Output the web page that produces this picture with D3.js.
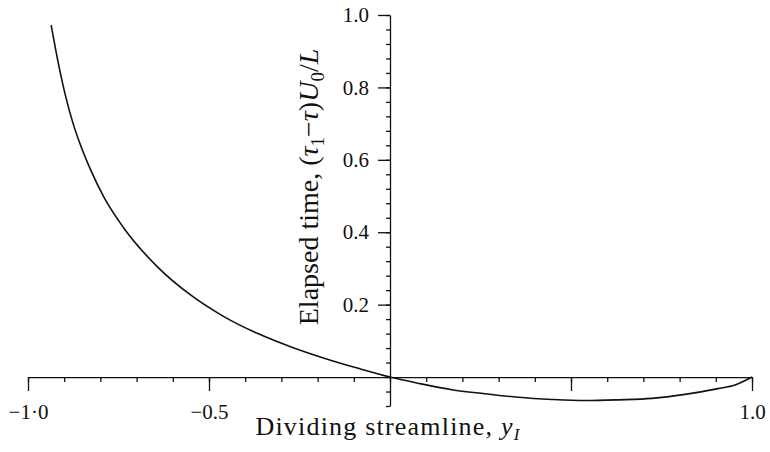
<!DOCTYPE html>
<html>
<head>
<meta charset="utf-8">
<script src="https://cdn.jsdelivr.net/npm/d3@7"></script>
<style>
body { margin: 0; background: #fff; }
</style>
</head>
<body>
<div id="chart"></div>
<script>

// dividing streamline y_I and elapsed time
var streamX = [-0.936, -0.914, -0.895, -0.876, -0.854, -0.826, -0.790, -0.735, -0.641, -0.550, -0.459,
               -0.365, -0.273, -0.182, -0.088, 0, 0.077, 0.171, 0.262, 0.354, 0.448, 0.539, 0.630,
               0.724, 0.815, 0.906, 0.953, 1.0];
var elapsedT = [0.972, 0.856, 0.771, 0.702, 0.638, 0.570, 0.496, 0.411, 0.303, 0.226, 0.167,
                0.120, 0.083, 0.052, 0.024, 0, -0.017, -0.035, -0.046, -0.056, -0.062, -0.065, -0.063,
                -0.059, -0.048, -0.032, -0.022, 0];

var xMajorTicks = [-1, -0.5, 0.5, 1];
var xTickLabels = ["\u22121\u00b70", "\u22120.5", "", "1.0"];
var yMajorTicks = [0.2, 0.4, 0.6, 0.8, 1.0];
var yTickLabels = ["0.2", "0.4", "0.6", "0.8", "1.0"];

var width = 770, height = 452;
var serif = '"Liberation Serif", "Times New Roman", serif';

var x = d3.scaleLinear().domain([-1, 1]).range([28, 752]);
var y = d3.scaleLinear().domain([-0.08, 1.0]).range([406, 15]);

var svg = d3.select("#chart")
    .append("svg")
    .attr("width", width)
    .attr("height", height);

// x axis: minor ticks every 0.1, then the longer labelled ones
var xg = svg.append("g").attr("transform", "translate(0," + y(0) + ")");
xg.append("g")
    .call(d3.axisBottom(x)
        .tickValues(d3.range(-10, 11).map(function(d){ return d / 10; }))
        .tickSize(5).tickSizeOuter(0).tickFormat(""));
xg.append("g")
    .call(d3.axisBottom(x)
        .tickValues(xMajorTicks)
        .tickSize(14).tickSizeOuter(0).tickPadding(13)
        .tickFormat(function(d, i){ return xTickLabels[i]; }))
    .call(function(g){ g.select(".domain").remove(); });

// y axis: minor ticks every 0.04
var yg = svg.append("g").attr("transform", "translate(" + x(0) + ",0)");
yg.append("g")
    .call(d3.axisLeft(y)
        .tickValues(d3.range(-2, 26).map(function(d){ return d * 0.04; }))
        .tickSize(4).tickSizeOuter(0).tickFormat(""));
yg.append("g")
    .call(d3.axisLeft(y)
        .tickValues(yMajorTicks)
        .tickSize(12).tickSizeOuter(0).tickPadding(9)
        .tickFormat(function(d, i){ return yTickLabels[i]; }))
    .call(function(g){ g.select(".domain").remove(); });

svg.selectAll(".domain, .tick line")
    .attr("stroke", "#111")
    .attr("stroke-width", 1.3);
svg.selectAll(".tick text")
    .attr("fill", "#111")
    .style("font-family", serif)
    .style("font-size", "21px");

// the curve
var line = d3.line()
    .x(function(d){ return x(d[0]); })
    .y(function(d){ return y(d[1]); })
    .curve(d3.curveMonotoneX);

svg.append("path")
    .datum(d3.zip(streamX, elapsedT))
    .attr("d", line)
    .attr("fill", "none")
    .attr("stroke", "#111")
    .attr("stroke-width", 1.6);

// axis titles
var xt = svg.append("text")
    .attr("x", 388)
    .attr("y", 435)
    .attr("text-anchor", "middle")
    .attr("fill", "#111")
    .style("font-family", serif)
    .style("font-size", "26px")
    .style("letter-spacing", "1.2px");
xt.append("tspan").text("Dividing streamline, ");
xt.append("tspan").style("font-style", "italic").text("y");
xt.append("tspan").style("font-style", "italic").style("font-size", "17px").attr("dy", 5).text("I");

var yt = svg.append("text")
    .attr("transform", "translate(318,187) rotate(-90)")
    .attr("text-anchor", "middle")
    .attr("fill", "#111")
    .style("font-family", serif)
    .style("font-size", "28px");
yt.append("tspan").text("Elapsed time, (");
yt.append("tspan").style("font-style", "italic").text("\u03c4");
yt.append("tspan").style("font-size", "19px").attr("dy", 6).text("1");
yt.append("tspan").attr("dy", -6).text("\u2212");
yt.append("tspan").style("font-style", "italic").text("\u03c4");
yt.append("tspan").text(")");
yt.append("tspan").style("font-style", "italic").text("U");
yt.append("tspan").style("font-size", "19px").attr("dy", 6).text("0");
yt.append("tspan").attr("dy", -6).text("/");
yt.append("tspan").style("font-style", "italic").text("L");

</script>
</body>
</html>
